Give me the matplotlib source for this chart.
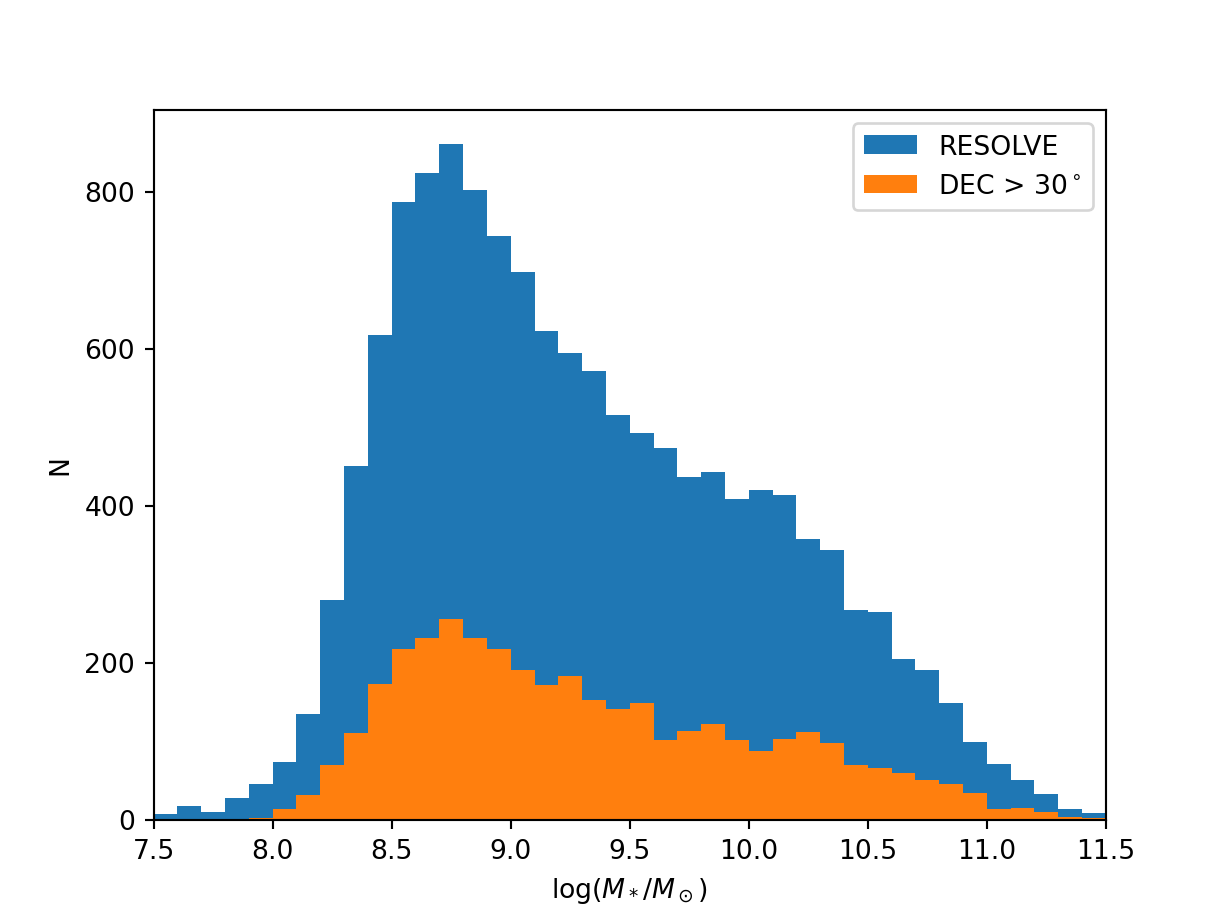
import numpy as np
import matplotlib
matplotlib.use('Agg')
import matplotlib.pyplot as plt


# bin edges of log stellar mass, 0.1 dex wide
bin_edges = np.round(np.arange(7.5, 11.5001, 0.1), 2)

# counts
resolve_counts = [7, 17, 10, 28, 45, 73, 134, 280, 450, 617,
                  787, 824, 861, 802, 744, 698, 622, 595, 571, 516,
                  492, 473, 437, 443, 409, 420, 413, 358, 343, 267,
                  264, 204, 191, 148, 99, 71, 51, 33, 14, 8]
dec_counts = [0, 0, 0, 0, 2, 13, 31, 70, 110, 173,
              217, 231, 255, 232, 217, 190, 171, 183, 152, 141,
              148, 102, 113, 122, 101, 87, 103, 111, 97, 69,
              66, 60, 50, 46, 34, 14, 15, 10, 3, 2]

fig = plt.figure(figsize=(6.4, 4.8), dpi=192)
ax = fig.add_subplot(111)

centers = bin_edges[:-1] + 0.05
ax.hist(centers, bins=bin_edges, weights=resolve_counts, label='RESOLVE')
ax.hist(centers, bins=bin_edges, weights=dec_counts, label=r'DEC > 30$^\circ$')

ax.set_xlim(7.5, 11.5)
ax.set_xlabel(r'log($M_*/M_\odot$)')
ax.set_ylabel('N')
ax.legend()

fig.savefig('out.png', dpi=192)
